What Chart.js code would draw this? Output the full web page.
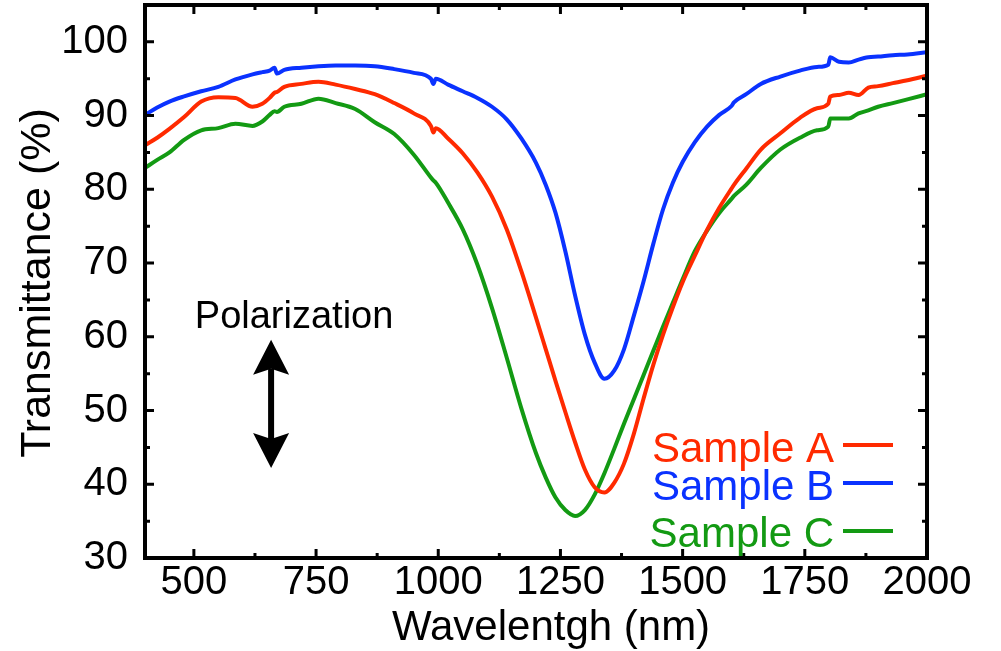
<!DOCTYPE html>
<html>
<head>
  <title>Transmittance spectra</title>
  <script src="https://cdn.jsdelivr.net/npm/chart.js"></script>
  <style>
    body { margin: 0; background: #fff; }
  </style>
</head>
<body>
  <canvas id="spectra" width="1001" height="651"></canvas>
  <script>
    // wavelength grid (nm) shared by the three spectra
    const wavelength = [400, 425, 450, 480, 515, 550, 585, 620, 640, 655, 665, 670, 685, 720, 755, 790, 830, 870, 910, 950,
      985, 990, 995, 1020, 1050, 1080, 1110, 1140, 1170, 1200, 1220, 1240, 1260, 1280, 1300, 1320, 1340, 1360, 1380, 1400,
      1420, 1440, 1460, 1480, 1500, 1525, 1550, 1575, 1600, 1605, 1630, 1660, 1700, 1740, 1775, 1798, 1802, 1820, 1840, 1860,
      1880, 1900, 1930, 1960, 2000];

    // transmittance (%)
    const sampleA = [86.0, 87.0, 88.2, 89.8, 91.9, 92.5, 92.4, 91.2, 91.6, 92.4, 93.1, 93.2, 93.9, 94.3, 94.6, 94.2, 93.6, 92.9, 91.7, 90.3,
      88.6, 87.7, 88.3, 86.9, 84.9, 82.3, 79.0, 74.6, 68.9, 62.6, 58.3, 54.0, 49.8, 45.7, 42.0, 39.6, 38.9, 40.2, 42.8, 46.8,
      51.6, 56.2, 60.3, 64.0, 67.4, 71.0, 74.5, 77.5, 80.1, 80.6, 82.8, 85.4, 87.6, 89.7, 91.0, 91.6, 92.6, 92.8, 93.1, 92.8,
      93.8, 94.0, 94.4, 94.8, 95.4];
    const sampleB = [90.1, 91.1, 91.9, 92.6, 93.3, 93.9, 94.9, 95.6, 95.9, 96.1, 96.5, 95.7, 96.2, 96.5, 96.7, 96.8, 96.8, 96.7, 96.3, 95.8,
      95.0, 94.3, 95.0, 94.2, 93.3, 92.4, 91.2, 89.5, 86.9, 83.6, 80.6, 76.8, 71.6, 65.6, 60.3, 56.5, 54.3, 55.4, 58.3, 62.8,
      67.5, 72.6, 77.3, 80.9, 83.7, 86.4, 88.5, 90.1, 91.3, 91.8, 92.9, 94.3, 95.3, 96.1, 96.6, 96.9, 97.9, 97.3, 97.2, 97.6,
      97.9, 98.0, 98.2, 98.3, 98.6];
    const sampleC = [82.9, 84.0, 85.0, 86.7, 88.0, 88.3, 88.9, 88.6, 89.2, 90.1, 90.6, 90.5, 91.2, 91.6, 92.3, 91.7, 90.9, 89.1, 87.5, 84.7,
      81.6, 81.2, 80.9, 78.2, 74.6, 69.8, 63.9, 57.2, 50.3, 44.2, 40.9, 38.2, 36.5, 35.7, 36.5, 38.6, 41.5, 44.8, 48.2, 51.5,
      54.8, 58.1, 61.4, 64.6, 67.8, 71.6, 74.4, 76.8, 78.7, 79.1, 80.6, 82.9, 85.4, 87.0, 88.0, 88.5, 89.6, 89.6, 89.6, 90.3,
      90.7, 91.2, 91.7, 92.2, 92.9];

    const seriesLabels = ['Sample A', 'Sample B', 'Sample C'];
    const seriesColors = ['#ff2a00', '#0a32ff', '#139a13'];

    const xTicks = [500, 750, 1000, 1250, 1500, 1750, 2000];
    const xMinorTicks = [625, 875, 1125, 1375, 1625, 1875];
    const yTicks = [30, 40, 50, 60, 70, 80, 90, 100];
    const yMinorTicks = [35, 45, 55, 65, 75, 85, 95];

    const xTitle = 'Wavelentgh (nm)';
    const yTitle = 'Transmittance (%)';
    const note = 'Polarization';

    const fontFamily = "'Liberation Sans', Arial, sans-serif";

    function points(values) {
      return wavelength.map((w, i) => ({ x: w, y: values[i] }));
    }

    // keep the plot box where the figure has it: no extra room for edge labels
    function fixScale(s, size) {
      if (s.isHorizontal()) s.height = size; else s.width = size;
      s.paddingTop = 0; s.paddingBottom = 0; s.paddingLeft = 0; s.paddingRight = 0;
    }

    // frame, inward ticks, axis titles, legend and the polarization note
    const decorations = {
      id: 'decorations',
      afterDatasetsDraw(chart) {
        const ctx = chart.ctx;
        const area = chart.chartArea;
        const xs = chart.scales.x;
        const ys = chart.scales.y;
        ctx.save();
        ctx.strokeStyle = '#000';
        ctx.lineCap = 'butt';

        // ticks on all four sides, pointing in
        ctx.lineWidth = 3;
        const tick = (v, len, horiz) => {
          ctx.beginPath();
          if (horiz) {
            const p = xs.getPixelForValue(v);
            ctx.moveTo(p, area.bottom); ctx.lineTo(p, area.bottom - len);
            ctx.moveTo(p, area.top); ctx.lineTo(p, area.top + len);
          } else {
            const p = ys.getPixelForValue(v);
            ctx.moveTo(area.left, p); ctx.lineTo(area.left + len, p);
            ctx.moveTo(area.right, p); ctx.lineTo(area.right - len, p);
          }
          ctx.stroke();
        };
        xTicks.forEach(v => tick(v, 9, true));
        xMinorTicks.forEach(v => tick(v, 5, true));
        yTicks.forEach(v => tick(v, 9, false));
        yMinorTicks.forEach(v => tick(v, 5, false));

        ctx.lineWidth = 4;
        ctx.strokeRect(area.left, area.top, area.right - area.left, area.bottom - area.top);

        // axis titles
        ctx.fillStyle = '#000';
        ctx.textBaseline = 'alphabetic';
        ctx.textAlign = 'center';
        ctx.font = '42px ' + fontFamily;
        ctx.fillText(xTitle, area.left + 406, area.bottom + 82);
        ctx.save();
        ctx.translate(50, area.top + 278);
        ctx.rotate(-Math.PI / 2);
        ctx.font = '43px ' + fontFamily;
        ctx.fillText(yTitle, 0, 0);
        ctx.restore();

        // legend: text then a short line, bottom right
        const textRows = [96, 58, 11];
        const lineRows = [113, 75, 27];
        ctx.font = '42px ' + fontFamily;
        ctx.textAlign = 'right';
        chart.data.datasets.forEach((ds, i) => {
          ctx.fillStyle = ds.borderColor;
          ctx.fillText(ds.label, area.right - 93, area.bottom - textRows[i]);
          ctx.strokeStyle = ds.borderColor;
          ctx.lineWidth = 4;
          ctx.beginPath();
          ctx.moveTo(area.right - 84, area.bottom - lineRows[i]);
          ctx.lineTo(area.right - 34, area.bottom - lineRows[i]);
          ctx.stroke();
        });

        // polarization note with a double arrow
        ctx.fillStyle = '#000';
        ctx.strokeStyle = '#000';
        ctx.font = '38px ' + fontFamily;
        ctx.textAlign = 'center';
        ctx.fillText(note, xs.getPixelForValue(705), ys.getPixelForValue(61.2));
        const ax = xs.getPixelForValue(658);
        const top = ys.getPixelForValue(59.6);
        const bot = ys.getPixelForValue(42.2);
        const headLen = 35, headHalf = 18, notch = 6;
        ctx.lineWidth = 6;
        ctx.beginPath();
        ctx.moveTo(ax, top + headLen - notch);
        ctx.lineTo(ax, bot - headLen + notch);
        ctx.stroke();
        [[top, 1], [bot, -1]].forEach(([tip, dir]) => {
          ctx.beginPath();
          ctx.moveTo(ax, tip);
          ctx.lineTo(ax + headHalf, tip + dir * headLen);
          ctx.lineTo(ax, tip + dir * (headLen - notch));
          ctx.lineTo(ax - headHalf, tip + dir * headLen);
          ctx.closePath();
          ctx.fill();
        });
        ctx.restore();
      }
    };

    const ctx = document.getElementById('spectra').getContext('2d');
    const chart = new Chart(ctx, {
      type: 'line',
      data: {
        datasets: [sampleA, sampleB, sampleC].map((values, i) => ({
          label: seriesLabels[i],
          data: points(values),
          borderColor: seriesColors[i],
          backgroundColor: seriesColors[i],
          borderWidth: 4,
          pointRadius: 0,
          cubicInterpolationMode: 'monotone',
          fill: false
        }))
      },
      options: {
        responsive: false,
        animation: false,
        layout: { padding: { top: 5, right: 74, left: 0, bottom: 0 } },
        plugins: {
          legend: { display: false },
          tooltip: { enabled: false }
        },
        scales: {
          x: {
            type: 'linear',
            min: 400,
            max: 2000,
            afterBuildTicks: s => { s.ticks = xTicks.map(v => ({ value: v })); },
            afterFit: s => fixScale(s, 93),
            grid: { display: false, drawTicks: false },
            border: { display: false },
            ticks: {
              color: '#000', padding: 1, maxRotation: 0, autoSkip: false,
              font: { family: fontFamily, size: 40 },
              callback: v => String(v)
            }
          },
          y: {
            min: 30,
            max: 105,
            afterBuildTicks: s => { s.ticks = yTicks.map(v => ({ value: v })); },
            afterFit: s => fixScale(s, 145),
            grid: { display: false, drawTicks: false },
            border: { display: false },
            ticks: {
              color: '#000', padding: 17, autoSkip: false,
              font: { family: fontFamily, size: 40 },
              callback: v => String(v)
            }
          }
        }
      },
      plugins: [decorations]
    });
  </script>
</body>
</html>
